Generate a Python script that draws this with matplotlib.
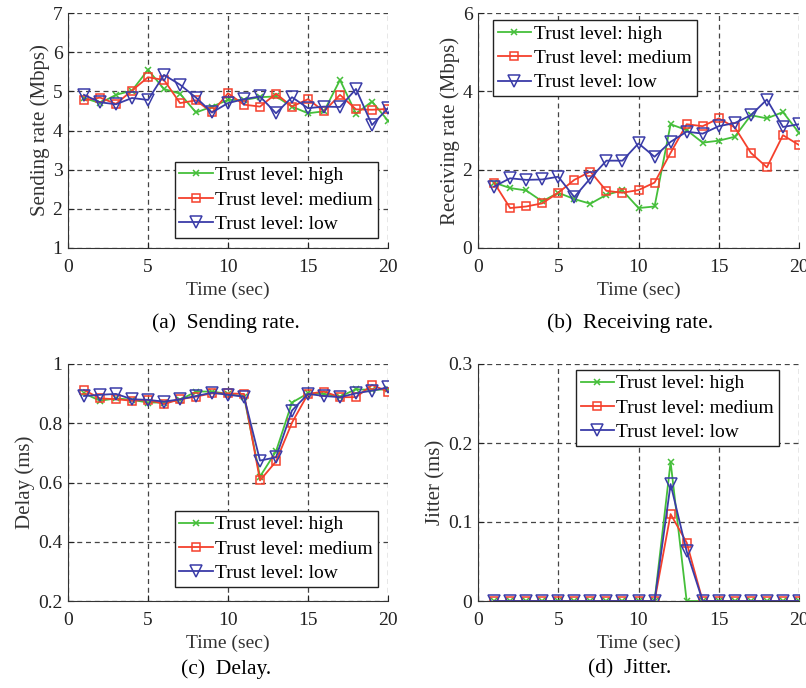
import numpy as np
import matplotlib.pyplot as plt

plt.rcParams['font.family'] = ['Liberation Serif', 'DejaVu Serif']

t = np.arange(1, 21)

# sending rate (Mbps)
send_high = [4.83, 4.70, 4.91, 5.02, 5.55, 5.06, 4.94, 4.46, 4.61, 4.78,
             4.78, 4.85, 4.87, 4.61, 4.44, 4.49, 5.29, 4.43, 4.74, 4.25]
send_med = [4.77, 4.84, 4.68, 5.02, 5.36, 5.29, 4.70, 4.77, 4.46, 4.95,
            4.66, 4.61, 4.94, 4.61, 4.80, 4.49, 4.91, 4.54, 4.53, 4.55]
send_low = [4.91, 4.72, 4.67, 4.83, 4.78, 5.42, 5.17, 4.84, 4.46, 4.70,
            4.80, 4.87, 4.44, 4.85, 4.57, 4.61, 4.60, 5.06, 4.14, 4.57]

# receiving rate (Mbps)
recv_high = [1.67, 1.53, 1.47, 1.19, 1.41, 1.25, 1.13, 1.36, 1.47, 1.02,
             1.06, 3.16, 3.01, 2.69, 2.74, 2.84, 3.39, 3.31, 3.47, 2.94]
recv_med = [1.67, 1.02, 1.06, 1.14, 1.41, 1.74, 1.95, 1.46, 1.41, 1.48,
            1.67, 2.43, 3.16, 3.11, 3.31, 3.08, 2.43, 2.06, 2.88, 2.63]
recv_low = [1.57, 1.78, 1.74, 1.75, 1.82, 1.30, 1.78, 2.23, 2.23, 2.67,
            2.33, 2.71, 2.97, 2.92, 3.11, 3.19, 3.39, 3.79, 3.09, 3.16]

# delay (ms)
delay_high = [0.901, 0.876, 0.884, 0.879, 0.870, 0.870, 0.879, 0.907, 0.907, 0.899,
              0.890, 0.620, 0.705, 0.870, 0.901, 0.899, 0.890, 0.915, 0.912, 0.915]
delay_med = [0.912, 0.884, 0.881, 0.876, 0.879, 0.865, 0.881, 0.890, 0.901, 0.901,
             0.899, 0.607, 0.671, 0.802, 0.899, 0.907, 0.888, 0.888, 0.929, 0.907]
delay_low = [0.892, 0.896, 0.899, 0.881, 0.879, 0.873, 0.881, 0.892, 0.903, 0.896,
             0.890, 0.674, 0.685, 0.843, 0.899, 0.892, 0.888, 0.901, 0.910, 0.921]

# jitter (ms)
jit_high = [0]*11 + [0.176, 0.0] + [0]*7
jit_med = [0]*11 + [0.110, 0.074] + [0]*7
jit_low = [0]*11 + [0.148, 0.063] + [0]*7

green = '#45bf3a'
red = '#f5402c'
blue = '#3a3ca8'

W, H = 806, 688
fig = plt.figure(figsize=(W/100, H/100), dpi=100)


def panel(rect, hi, me, lo, ylim, yticks, ylabel, legloc, anchor, caption, cap_xy):
    l, t_, r, b = rect
    ax = fig.add_axes([l/W, 1-b/H, (r-l)/W, (b-t_)/H])
    ax.plot(t, hi, color=green, marker='x', ms=5, mew=1.1, lw=1.3, label='Trust level: high')
    ax.plot(t, me, color=red, marker='s', ms=6, mfc='none', mew=1.1, lw=1.3, label='Trust level: medium')
    ax.plot(t, lo, color=blue, marker='v', ms=8, mfc='none', mew=1.1, lw=1.3, label='Trust level: low')
    ax.set_xlim(0, 20)
    ax.set_ylim(*ylim)
    ax.set_xticks([0, 5, 10, 15, 20])
    ax.set_yticks(yticks)
    ax.set_yticklabels([('%g' % v) for v in yticks])
    ax.grid(True, ls=(0, (4, 3)), color='#444444', lw=0.9)
    for s in ['top', 'right']:
        ax.spines[s].set_visible(False)
    for s in ['bottom', 'left']:
        ax.spines[s].set_color('#333333')
    ax.tick_params(direction='in', length=4, labelsize=14, colors='#222222')
    ax.tick_params(axis='x', pad=8)
    ax.tick_params(axis='y', pad=4)
    ax.set_xlabel('Time (sec)', fontsize=14, color='#333333', labelpad=4)
    ax.set_ylabel(ylabel, fontsize=15, color='#333333', labelpad=2)
    leg = ax.legend(loc=legloc, bbox_to_anchor=anchor, fontsize=14, handlelength=1.7,
                    handletextpad=0.15, borderpad=0.25, labelspacing=0.35, fancybox=False,
                    framealpha=1, borderaxespad=0)
    leg.get_frame().set_edgecolor('#222222')
    leg.get_frame().set_linewidth(1.0)
    fig.text(cap_xy[0]/W, 1-cap_xy[1]/H, caption, ha='center', va='center', fontsize=15.5)
    return ax


panel((68, 13, 388, 248), send_high, send_med, send_low, (1, 7), [1, 2, 3, 4, 5, 6, 7],
      'Sending rate (Mbps)', 'lower right', (0.969, 0.043), '(a)  Sending rate.', (226, 323))
panel((478, 13, 799, 248), recv_high, recv_med, recv_low, (0, 6), [0, 2, 4, 6],
      'Receiving rate (Mbps)', 'upper left', (0.047, 0.970), '(b)  Receiving rate.', (630, 323))
panel((68, 364, 388, 601), delay_high, delay_med, delay_low, (0.2, 1.0), [0.2, 0.4, 0.6, 0.8, 1.0],
      'Delay (ms)', 'lower right', (0.969, 0.059), '(c)  Delay.', (226, 669))
panel((478, 364, 799, 601), jit_high, jit_med, jit_low, (0, 0.3), [0, 0.1, 0.2, 0.3],
      'Jitter (ms)', 'upper right', (0.938, 0.975), '(d)  Jitter.', (630, 669))

fig.savefig('out.png', dpi=100)
